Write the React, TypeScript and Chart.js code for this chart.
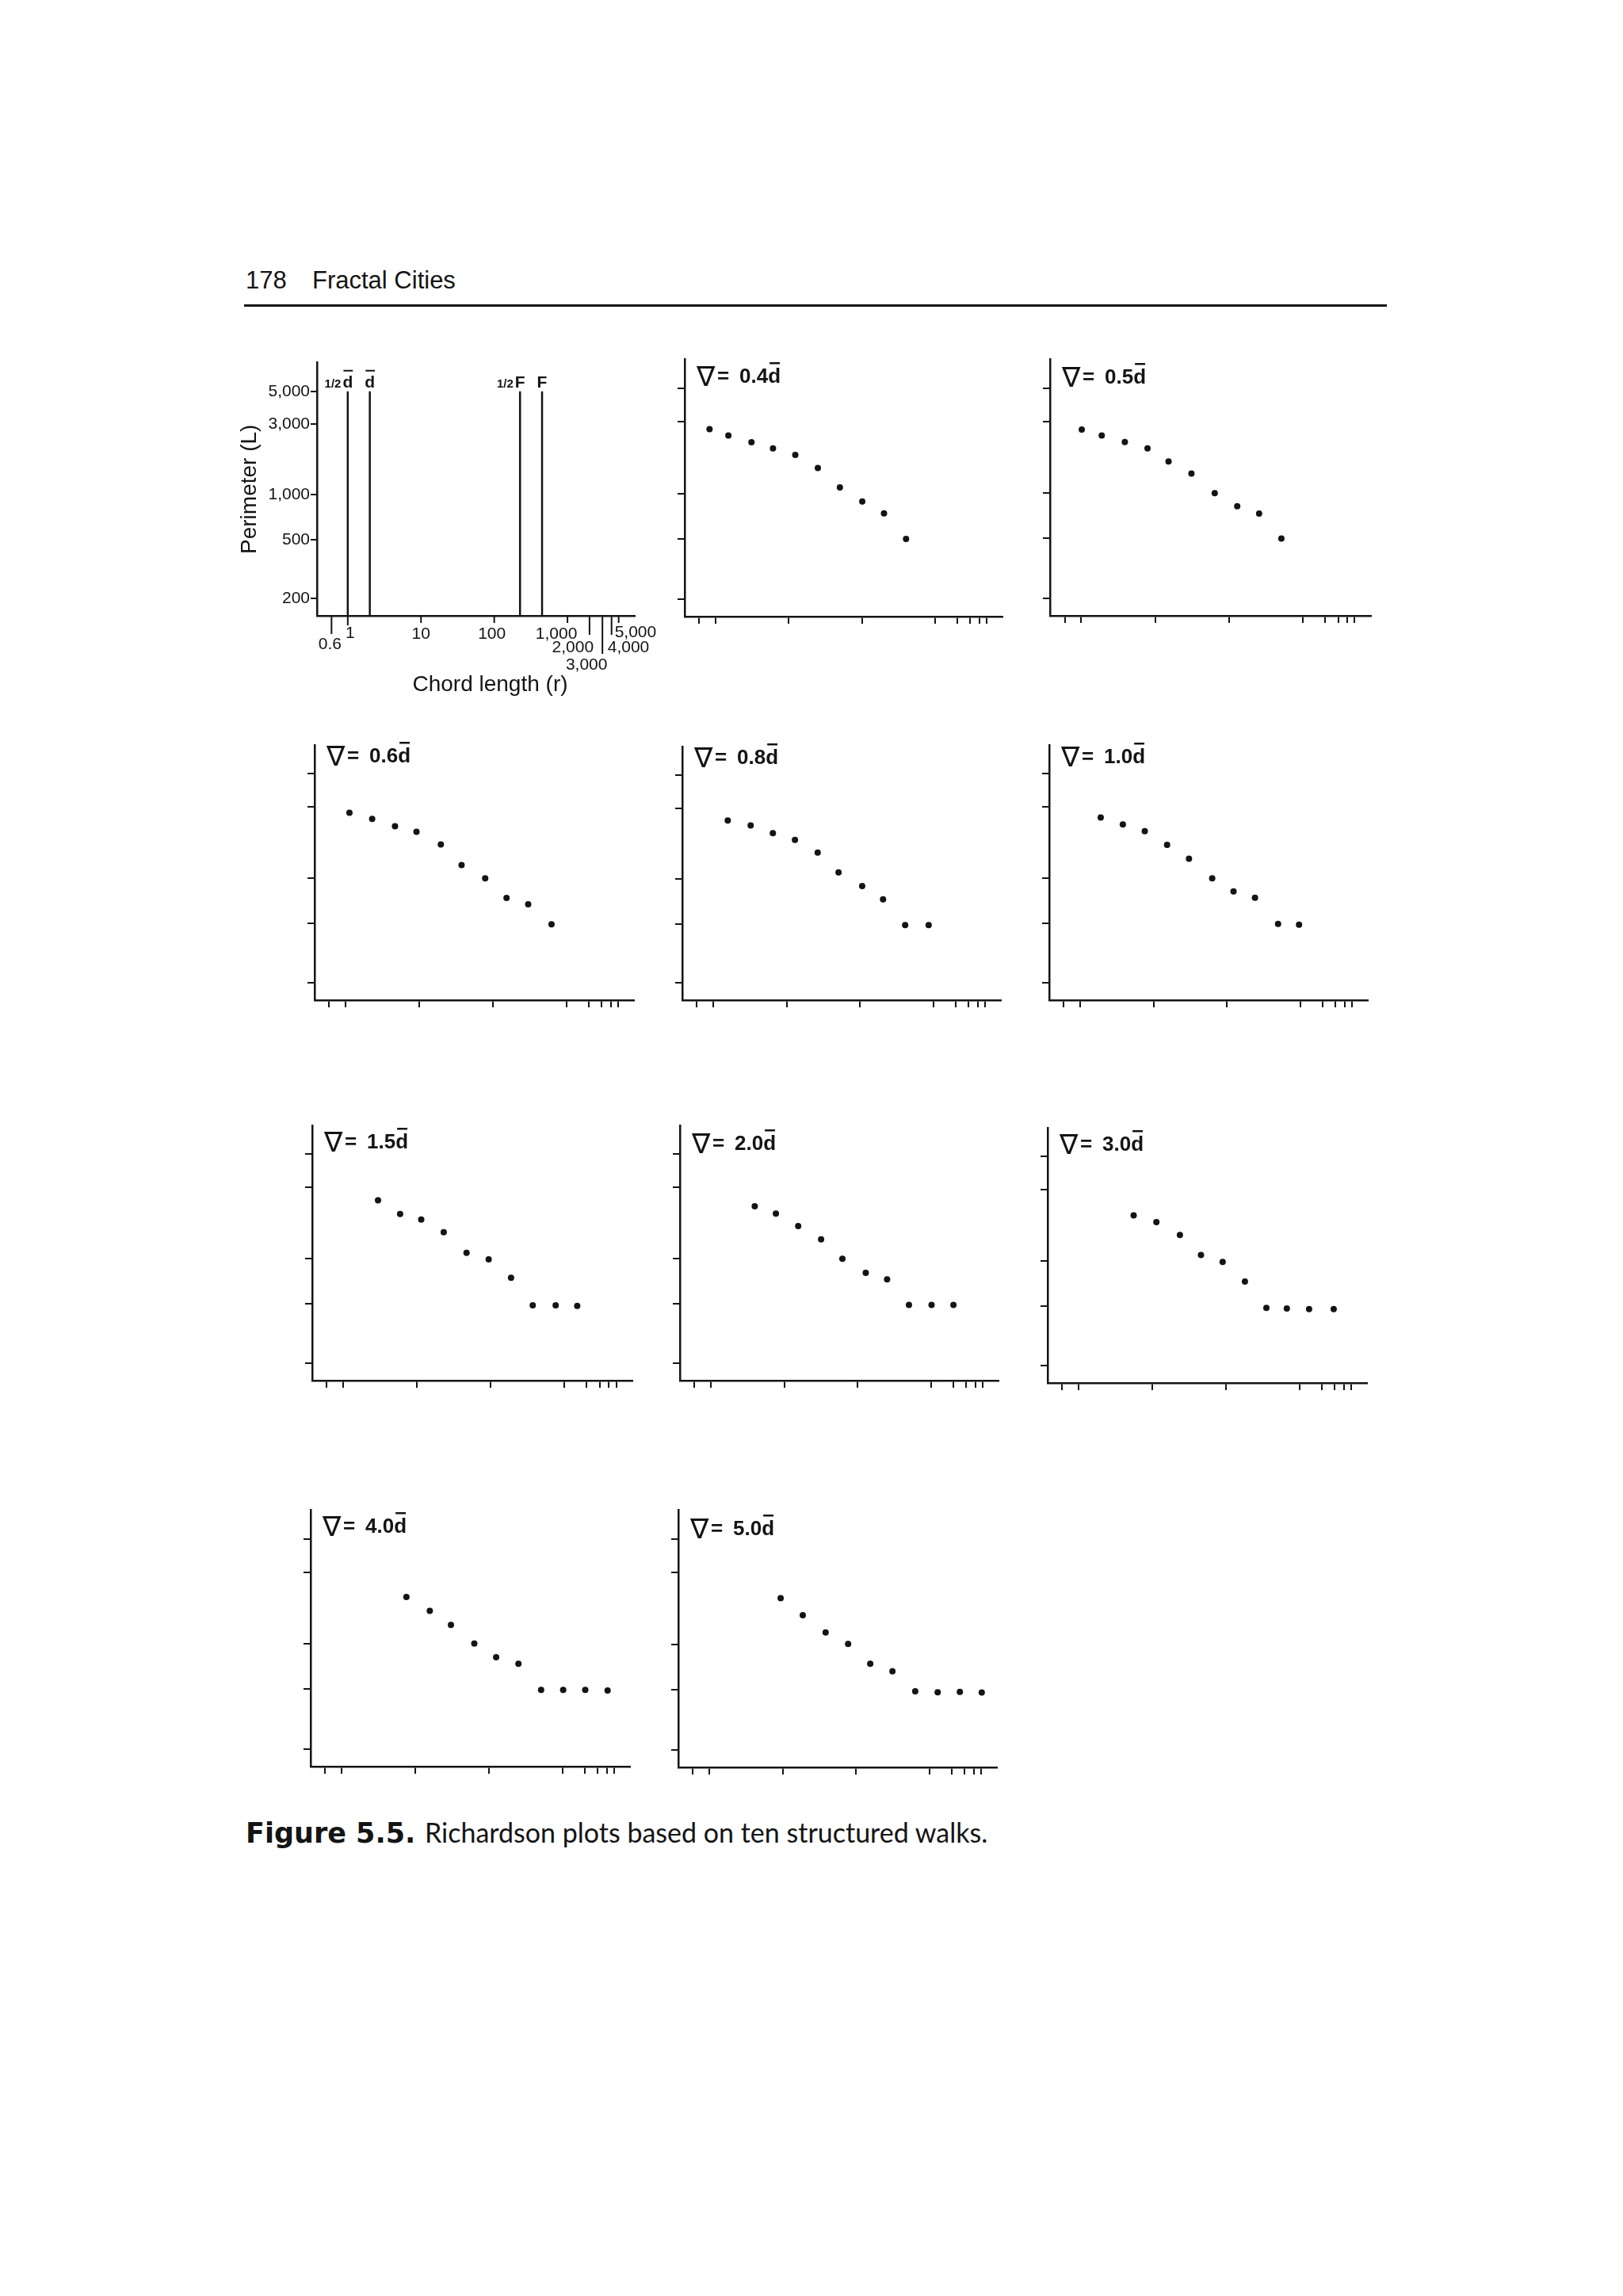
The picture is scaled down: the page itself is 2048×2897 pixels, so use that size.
import React, { useEffect, useRef } from "react";
import { Chart, registerables } from "chart.js";

Chart.register(...registerables);

// ---------------- data ----------------
const walkNames = ["0.4", "0.5", "0.6", "0.8", "1.0", "1.5", "2.0", "3.0", "4.0", "5.0"];

const chord04 = [0.83, 1.5, 3.1, 6.1, 12.3, 25, 50, 101, 200, 400];
const perim04 = [2670, 2430, 2190, 1995, 1805, 1480, 1100, 886, 739, 500];

const chord05 = [1.02, 1.9, 3.9, 7.9, 15.2, 31, 64, 129, 255, 510];
const perim05 = [2650, 2420, 2190, 1985, 1625, 1350, 1000, 820, 731, 500];

const chord06 = [1.13, 2.3, 4.7, 9.2, 19.7, 37.7, 79, 154, 303, 629];
const perim06 = [2750, 2495, 2230, 2050, 1683, 1226, 1000, 738, 671, 493];

const chord08 = [1.58, 3.24, 6.5, 13, 26.5, 51, 107, 206, 412, 861];
const perim08 = [2477, 2296, 2036, 1834, 1507, 1110, 897, 731, 490, 490];

const chord10 = [1.91, 3.82, 7.6, 15.3, 30.4, 63, 123, 241, 497, 960];
const perim10 = [2553, 2297, 2069, 1676, 1352, 1000, 817, 742, 495, 490];

const chord15 = [2.96, 5.9, 11.4, 23, 46.9, 93.6, 188, 370, 757, 1483];
const perim15 = [2460, 1991, 1832, 1507, 1096, 992, 745, 488, 488, 484];

const chord20 = [3.97, 7.7, 15.5, 31.8, 62, 129, 252, 500, 1016, 2018];
const perim20 = [2245, 2005, 1657, 1347, 1000, 806, 728, 491, 491, 491];

const chord30 = [5.6, 11.4, 23.8, 46, 90.6, 182, 356, 675, 1355, 2925];
const perim30 = [2023, 1824, 1496, 1100, 988, 730, 486, 482, 477, 477];

const chord40 = [7.6, 15.8, 30.6, 63.6, 126, 253, 514, 1025, 2046, 4115];
const perim40 = [2052, 1661, 1337, 1008, 816, 738, 495, 495, 495, 490];

const chord50 = [9.4, 18.8, 38.5, 78, 156, 313, 640, 1294, 2594, 5155];
const perim50 = [2024, 1559, 1200, 1008, 745, 663, 488, 482, 484, 480];

const chordSeries = [chord04, chord05, chord06, chord08, chord10, chord15, chord20, chord30, chord40, chord50];
const perimSeries = [perim04, perim05, perim06, perim08, perim10, perim15, perim20, perim30, perim40, perim50];

const xTickValues = [0.6, 1, 10, 100, 1000, 2000, 3000, 4000, 5000];
const xTickLabels = ["0.6", "1", "10", "100", "1,000", "2,000", "3,000", "4,000", "5,000"];
const yTickValues = [200, 500, 1000, 3000, 5000];
const yTickLabels = ["200", "500", "1,000", "3,000", "5,000"];

const thresholdValues = [1, 2, 225, 450];
const thresholdFractions = ["1/2", "", "1/2", ""];
const thresholdSymbols = ["d", "d", "F", "F"];
const thresholdTop = 5000;

const xRange = [0.38, 8300];
const yRange = [153, 7800];

// ---------------- layout / style ----------------
const INK = "#141414";
const SANS = "'Liberation Sans', Arial, Helvetica, sans-serif";

type Box = { l: number; t: number; r: number; b: number; ld?: number };

const keyBox: Box = { l: 400, t: 454, r: 801, b: 777 };
const panelBoxes: Box[] = [
  { l: 864, t: 453, r: 1265, b: 778, ld: 30 },
  { l: 1325, t: 453, r: 1730, b: 777, ld: 31 },
  { l: 397, t: 940, r: 800, b: 1262, ld: 22 },
  { l: 861, t: 942, r: 1263, b: 1262, ld: 22 },
  { l: 1324, t: 940, r: 1726, b: 1262, ld: 23 },
  { l: 394, t: 1420, r: 798, b: 1742, ld: 29 },
  { l: 858, t: 1420, r: 1260, b: 1742, ld: 31 },
  { l: 1322, t: 1423, r: 1725, b: 1745, ld: 29 },
  { l: 392, t: 1905, r: 795, b: 2229, ld: 29 },
  { l: 856, t: 1905, r: 1258, b: 2230, ld: 32 },
];

const keyTickLayout: { len: number; dx: number; dy: number; align: CanvasTextAlign }[] = [
  { len: 23, dx: -2, dy: 42, align: "center" },
  { len: 12, dx: 3, dy: 28, align: "center" },
  { len: 9, dx: 0, dy: 29, align: "center" },
  { len: 9, dx: -3, dy: 29, align: "center" },
  { len: 9, dx: -14, dy: 29, align: "center" },
  { len: 24, dx: -21, dy: 46, align: "center" },
  { len: 48, dx: -20, dy: 68, align: "center" },
  { len: 24, dx: -5, dy: 46, align: "left" },
  { len: 9, dx: -5, dy: 27, align: "left" },
];

function drawKeyExtras(c: any) {
  const ctx: CanvasRenderingContext2D = c.ctx;
  const xs = c.scales.x;
  const ys = c.scales.y;
  const area = c.chartArea;
  ctx.save();
  ctx.fillStyle = INK;
  ctx.strokeStyle = INK;
  ctx.font = `21px ${SANS}`;
  ctx.textBaseline = "alphabetic";
  xTickValues.forEach((v, i) => {
    const px = xs.getPixelForValue(v);
    const spec = keyTickLayout[i];
    ctx.lineWidth = 2;
    ctx.beginPath();
    ctx.moveTo(px, area.bottom);
    ctx.lineTo(px, area.bottom + spec.len);
    ctx.stroke();
    ctx.textAlign = spec.align;
    ctx.fillText(xTickLabels[i], px + spec.dx, area.bottom + spec.dy);
  });
  const topPx = ys.getPixelForValue(thresholdTop);
  const base = topPx - 5;
  thresholdValues.forEach((v, i) => {
    const px = xs.getPixelForValue(v);
    ctx.font = `bold 21px ${SANS}`;
    ctx.textAlign = "center";
    const sym = thresholdSymbols[i];
    const w = ctx.measureText(sym).width;
    ctx.fillText(sym, px, base);
    if (sym === "d") {
      ctx.fillRect(px - w / 2 + 1, base - 22, w - 1, 2);
    }
    if (thresholdFractions[i]) {
      ctx.font = `bold 15px ${SANS}`;
      ctx.textAlign = "right";
      ctx.fillText(thresholdFractions[i], px - w / 2 - 2, base);
    }
  });
  ctx.font = `28px ${SANS}`;
  ctx.textAlign = "center";
  ctx.fillText("Chord length (r)", (area.left + area.right) / 2 + 18, area.bottom + 95);
  ctx.translate(area.left - 77, (area.top + area.bottom) / 2);
  ctx.rotate(-Math.PI / 2);
  ctx.fillText("Perimeter (L)", 0, 0);
  ctx.restore();
}

function makeWalkDrawer(idx: number, ld: number) {
  return (c: any) => {
    const ctx: CanvasRenderingContext2D = c.ctx;
    const area = c.chartArea;
    const L = area.left;
    const base = area.top + ld;
    ctx.save();
    ctx.fillStyle = INK;
    ctx.textBaseline = "alphabetic";
    ctx.textAlign = "left";
    ctx.font = `35px 'DejaVu Sans', sans-serif`;
    const nab = "\u2207";
    const m = ctx.measureText(nab);
    const nabX = L + 14 + m.actualBoundingBoxLeft;
    ctx.fillText(nab, nabX, base + 4);
    const nabRight = nabX + m.actualBoundingBoxRight;
    ctx.font = `bold 26px ${SANS}`;
    ctx.fillText("=", nabRight + 2, base);
    const name = walkNames[idx];
    const nx = L + 69;
    ctx.fillText(name, nx, base);
    const nw = ctx.measureText(name).width;
    ctx.fillText("d", nx + nw, base);
    const dw = ctx.measureText("d").width;
    ctx.fillRect(nx + nw + 2, base - 26, dw - 3, 2.5);
    ctx.restore();
  };
}

function LogLogChart(props: {
  box: Box;
  yw: number;
  xh: number;
  padTop: number;
  padRight: number;
  datasets: any[];
  keyAxes: boolean;
  drawExtra: (c: any) => void;
}) {
  const { box, yw, xh, padTop, padRight, datasets, keyAxes, drawExtra } = props;
  const ref = useRef<HTMLCanvasElement>(null);
  const width = box.r - box.l + yw + padRight;
  const height = box.b - box.t + padTop + xh;
  useEffect(() => {
    if (!ref.current) return;
    const chart = new Chart(ref.current, {
      type: "scatter",
      data: { datasets },
      options: {
        animation: false,
        responsive: false,
        maintainAspectRatio: false,
        devicePixelRatio: 1,
        events: [],
        layout: { padding: { top: padTop, right: padRight, left: 0, bottom: 0 } },
        plugins: { legend: { display: false }, tooltip: { enabled: false }, title: { display: false } },
        scales: {
          x: {
            type: "logarithmic",
            position: "bottom",
            min: xRange[0],
            max: xRange[1],
            bounds: "data",
            afterBuildTicks: (s: any) => {
              s.ticks = xTickValues.map((v) => ({ value: v }));
            },
            afterFit: (s: any) => {
              s.height = xh;
            },
            ticks: { display: false, autoSkip: false },
            grid: {
              display: !keyAxes,
              drawOnChartArea: false,
              drawTicks: true,
              tickLength: 9,
              color: INK,
              lineWidth: 2,
            },
            border: { display: true, color: INK, width: 2.5 },
          },
          y: {
            type: "logarithmic",
            position: "left",
            min: yRange[0],
            max: yRange[1],
            bounds: "data",
            afterBuildTicks: (s: any) => {
              s.ticks = yTickValues.map((v) => ({ value: v }));
            },
            afterFit: (s: any) => {
              s.width = yw;
            },
            ticks: {
              display: keyAxes,
              autoSkip: false,
              padding: 1,
              color: INK,
              font: { family: SANS, size: 21 },
              callback: (_v: any, i: number) => yTickLabels[i],
            },
            grid: {
              display: true,
              drawOnChartArea: false,
              drawTicks: true,
              tickLength: keyAxes ? 8 : 9,
              color: INK,
              lineWidth: 2,
            },
            border: { display: true, color: INK, width: 2.5 },
          },
        },
      } as any,
      plugins: [{ id: "extras", afterDraw: (c: any) => drawExtra(c) }],
    });
    return () => chart.destroy();
  }, []);
  return (
    <canvas
      ref={ref}
      width={width}
      height={height}
      style={{ position: "absolute", left: box.l - yw, top: box.t - padTop, width, height }}
    />
  );
}

export default function App() {
  const keyDatasets = thresholdValues.map((v) => ({
    data: [
      { x: v, y: yRange[0] },
      { x: v, y: thresholdTop },
    ],
    showLine: true,
    borderColor: INK,
    borderWidth: 2.5,
    pointRadius: 0,
  }));

  return (
    <div
      style={{
        position: "absolute",
        left: 0,
        top: 0,
        width: 2048,
        height: 2897,
        background: "#ffffff",
        overflow: "hidden",
      }}
    >
      <div style={{ position: "absolute", left: 310, top: 336, font: `31px ${SANS}`, lineHeight: "36px", color: INK, whiteSpace: "pre" }}>
        178
      </div>
      <div style={{ position: "absolute", left: 394, top: 336, font: `31px ${SANS}`, lineHeight: "36px", color: INK, whiteSpace: "pre" }}>
        Fractal Cities
      </div>
      <div style={{ position: "absolute", left: 308, top: 384, width: 1442, height: 3, background: INK }} />

      <LogLogChart
        box={keyBox}
        yw={110}
        xh={115}
        padTop={10}
        padRight={70}
        datasets={keyDatasets}
        keyAxes={true}
        drawExtra={drawKeyExtras}
      />

      {panelBoxes.map((box, i) => (
        <LogLogChart
          key={walkNames[i]}
          box={box}
          yw={12}
          xh={12}
          padTop={4}
          padRight={6}
          datasets={[
            {
              data: chordSeries[i].map((x, j) => ({ x, y: perimSeries[i][j] })),
              pointRadius: 4,
              pointBackgroundColor: INK,
              pointBorderWidth: 0,
              showLine: false,
            },
          ]}
          keyAxes={false}
          drawExtra={makeWalkDrawer(i, box.ld || 30)}
        />
      ))}

      <div style={{ position: "absolute", left: 310, top: 2292, font: `bold 35px 'DejaVu Sans', sans-serif`, lineHeight: "42px", color: INK, whiteSpace: "pre" }}>
        Figure 5.5.
      </div>
      <div style={{ position: "absolute", left: 536, top: 2291, font: `34px Lato, 'Open Sans', sans-serif`, lineHeight: "42px", color: INK, whiteSpace: "pre" }}>
        Richardson plots based on ten structured walks.
      </div>
    </div>
  );
}
